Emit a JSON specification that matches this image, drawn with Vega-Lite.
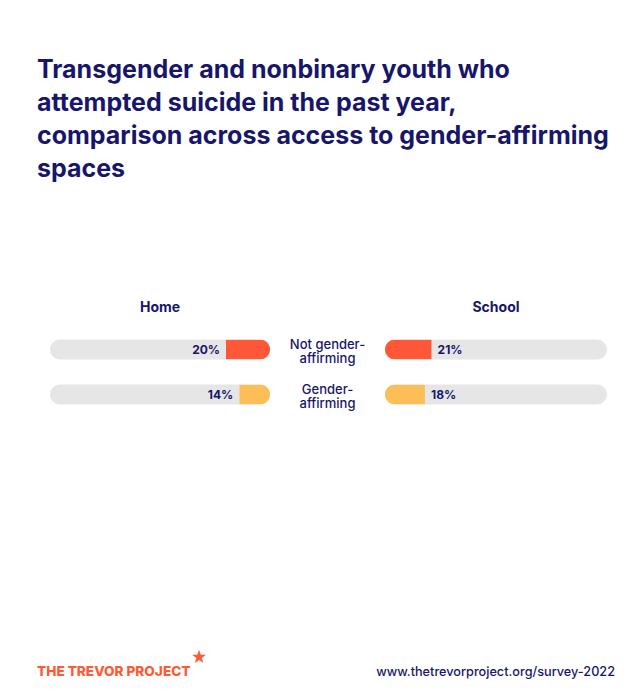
{
  "$schema": "https://vega.github.io/schema/vega-lite/v6.json",
  "padding": {"left": 37, "top": 58, "right": 5, "bottom": 5},
  "background": "white",
  "title": {
    "text": ["Transgender and nonbinary youth who", "attempted suicide in the past year,", "comparison across access to gender-affirming", "spaces"],
    "anchor": "start", "font": "Inter", "fontSize": 25, "fontWeight": "bold",
    "color": "#17166b", "lineHeight": 33, "offset": 119, "baseline": "top"
  },
  "config": {"view": {"stroke": null}, "font": "Inter"},
  "datasets": {
    "rates": [
      {"place": "Home", "group": "Not gender-affirming", "value": 20},
      {"place": "Home", "group": "Gender-affirming", "value": 14},
      {"place": "School", "group": "Not gender-affirming", "value": 21},
      {"place": "School", "group": "Gender-affirming", "value": 18}
    ],
    "groups": [
      {"group": "Not gender-affirming", "text": "Not gender-\naffirming"},
      {"group": "Gender-affirming", "text": "Gender-\naffirming"}
    ]
  },
  "spacing": 233,
  "vconcat": [
    {
      "spacing": 0,
      "hconcat": [
        {
          "width": 220, "height": {"step": 45},
          "title": {"text": "Home", "fontSize": 14, "fontWeight": "bold", "color": "#17166b", "offset": 12},
          "data": {"name": "rates"},
          "transform": [{"filter": "datum.place === 'Home'"}, {"calculate": "datum.value + '%'", "as": "label"}],
          "encoding": {"y": {"field": "group", "type": "nominal", "sort": ["Not gender-affirming", "Gender-affirming"],
                             "axis": {"labels": false, "ticks": false, "domain": false, "title": null, "minExtent": 13, "maxExtent": 13}}},
          "layer": [
            {"mark": {"type": "bar", "height": 20, "cornerRadius": 10, "color": "#e6e6e6"},
             "encoding": {"x": {"datum": 100, "type": "quantitative", "scale": {"domain": [0, 100], "reverse": true, "nice": false}, "axis": null}}},
            {"mark": {"type": "bar", "height": 20, "cornerRadiusTopRight": 10, "cornerRadiusBottomRight": 10},
             "encoding": {"x": {"field": "value", "type": "quantitative"},
                          "color": {"field": "group", "type": "nominal", "scale": {"domain": ["Not gender-affirming", "Gender-affirming"], "range": ["#ff5737", "#fcbf57"]}, "legend": null}}},
            {"mark": {"type": "text", "align": "right", "dx": -6, "fontWeight": "bold", "fontSize": 12, "color": "#17166b"},
             "encoding": {"x": {"field": "value", "type": "quantitative"}, "text": {"field": "label"}}}
          ]
        },
        {
          "width": 115, "height": {"step": 45},
          "title": {"text": " ", "fontSize": 14, "offset": 12},
          "data": {"name": "groups"},
          "mark": {"type": "text", "align": "center", "baseline": "middle", "lineBreak": "\n", "fontSize": 13, "fontWeight": 500, "color": "#17166b", "lineHeight": 14, "dy": -5},
          "encoding": {
            "y": {"field": "group", "type": "nominal", "sort": ["Not gender-affirming", "Gender-affirming"], "axis": null},
            "text": {"field": "text"}
          }
        },
        {
          "width": 222, "height": {"step": 45},
          "title": {"text": "School", "fontSize": 14, "fontWeight": "bold", "color": "#17166b", "offset": 12},
          "data": {"name": "rates"},
          "transform": [{"filter": "datum.place === 'School'"}, {"calculate": "datum.value + '%'", "as": "label"}],
          "encoding": {"y": {"field": "group", "type": "nominal", "sort": ["Not gender-affirming", "Gender-affirming"], "axis": null}},
          "layer": [
            {"mark": {"type": "bar", "height": 20, "cornerRadius": 10, "color": "#e6e6e6"},
             "encoding": {"x": {"datum": 100, "type": "quantitative", "scale": {"domain": [0, 100], "nice": false}, "axis": null}}},
            {"mark": {"type": "bar", "height": 20, "cornerRadiusTopLeft": 10, "cornerRadiusBottomLeft": 10},
             "encoding": {"x": {"field": "value", "type": "quantitative"},
                          "color": {"field": "group", "type": "nominal", "scale": {"domain": ["Not gender-affirming", "Gender-affirming"], "range": ["#ff5737", "#fcbf57"]}, "legend": null}}},
            {"mark": {"type": "text", "align": "left", "dx": 6, "fontWeight": "bold", "fontSize": 12, "color": "#17166b"},
             "encoding": {"x": {"field": "value", "type": "quantitative"}, "text": {"field": "label"}}}
          ]
        }
      ]
    },
    {
      "width": 565, "height": 20,
      "layer": [
        {"data": {"values": [{"t": "THE TREVOR PROJECT"}]},
         "mark": {"type": "text", "align": "left", "baseline": "middle", "fontSize": 13.6, "fontWeight": 800, "color": "#ff5a36", "dx": -13},
         "encoding": {"x": {"datum": 0, "type": "quantitative", "scale": {"domain": [0, 1]}, "axis": null}, "text": {"field": "t"}}},
        {"data": {"values": [{"t": "★"}]},
         "mark": {"type": "text", "align": "center", "baseline": "middle", "fontSize": 16, "color": "#ff5a36", "dx": 149, "dy": -14},
         "encoding": {"x": {"datum": 0, "type": "quantitative"}, "text": {"field": "t"}}},
        {"data": {"values": [{"t": "www.thetrevorproject.org/survey-2022"}]},
         "mark": {"type": "text", "align": "right", "baseline": "middle", "fontSize": 12.7, "fontWeight": 500, "color": "#17166b"},
         "encoding": {"x": {"datum": 1, "type": "quantitative"}, "text": {"field": "t"}}}
      ]
    }
  ]
}
